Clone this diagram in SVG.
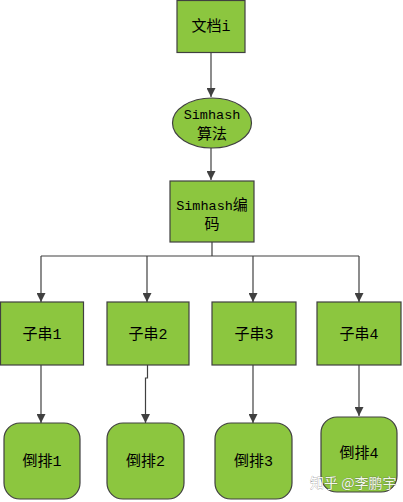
<svg xmlns="http://www.w3.org/2000/svg" width="403" height="502" viewBox="0 0 403 502">
<defs>
<style>
.n{fill:#8cc63f;stroke:#404040;stroke-width:1.2}
.t{font-family:"Liberation Mono","Noto Sans CJK SC",monospace;font-size:15px;fill:#000;text-anchor:middle}
.m{font-size:13.5px}
.c{fill:none;stroke:#404040;stroke-width:1.2}
.w{font-family:"Noto Sans CJK SC",sans-serif;font-size:14px;fill:#fff;stroke:#555;stroke-width:0.4;paint-order:stroke;opacity:0.9}
</style>
<marker id="a" viewBox="0 0 10 10" refX="10" refY="5" markerWidth="9" markerHeight="9" markerUnits="userSpaceOnUse" orient="auto">
<path d="M0,0 L10,5 L0,10 Z" fill="#404040"/>
</marker>
</defs>
<rect width="403" height="502" fill="#fff"/>
<g id="connectors">
<path class="c" d="M211,52 V97" marker-end="url(#a)"/>
<path class="c" d="M211,148 V180" marker-end="url(#a)"/>
<path class="c" d="M212,242 V256"/>
<path class="c" d="M41,256 H359"/>
<path class="c" d="M41,256 V302" marker-end="url(#a)"/>
<path class="c" d="M147,256 V302" marker-end="url(#a)"/>
<path class="c" d="M253,256 V302" marker-end="url(#a)"/>
<path class="c" d="M359,256 V302" marker-end="url(#a)"/>
<path class="c" d="M41,365 V423" marker-end="url(#a)"/>
<path class="c" d="M147.5,365 V378 H145.5 V423" marker-end="url(#a)"/>
<path class="c" d="M253,365 V423" marker-end="url(#a)"/>
<path class="c" d="M359,365 V416" marker-end="url(#a)"/>
</g>
<g id="doc"><rect class="n" x="177" y="0.5" width="68" height="52"/><text class="t" x="211" y="31">文档i</text></g>
<g id="simhash"><ellipse class="n" cx="212" cy="123" rx="39.5" ry="25"/><text class="t m" x="212" y="119">Simhash</text><text class="t" x="212" y="139">算法</text></g>
<g id="code"><rect class="n" x="170" y="181" width="84" height="61"/><text class="t"  x="212" y="210"><tspan class="m">Simhash</tspan>编</text><text class="t" x="212" y="229">码</text></g>
<g id="s1"><rect class="n" x="0.5" y="302" width="83" height="63"/><text class="t" x="42" y="339">子串1</text></g>
<g id="s2"><rect class="n" x="107" y="302" width="82" height="63"/><text class="t" x="148" y="339">子串2</text></g>
<g id="s3"><rect class="n" x="212" y="302" width="84" height="63"/><text class="t" x="254" y="339">子串3</text></g>
<g id="s4"><rect class="n" x="317" y="302" width="84" height="63"/><text class="t" x="359" y="339">子串4</text></g>
<g id="r1"><rect class="n" x="4" y="423" width="76" height="76" rx="16"/><text class="t" x="42" y="466">倒排1</text></g>
<g id="r2"><rect class="n" x="107" y="423" width="77" height="76" rx="16"/><text class="t" x="145.5" y="466">倒排2</text></g>
<g id="r3"><rect class="n" x="215" y="423" width="77" height="76" rx="16"/><text class="t" x="253.5" y="466">倒排3</text></g>
<g id="r4"><rect class="n" x="321" y="417" width="76" height="75" rx="16"/><text class="t" x="359" y="458">倒排4</text></g>
<text class="w" x="310" y="488">知乎 @李鹏宇</text>
</svg>
